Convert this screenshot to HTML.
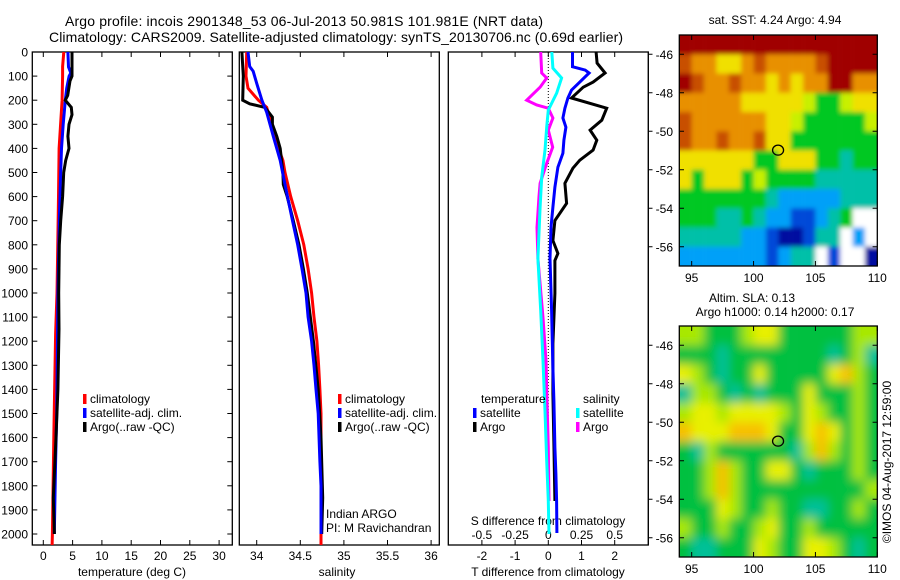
<!DOCTYPE html>
<html><head><meta charset="utf-8"><style>
html,body{margin:0;padding:0;background:#fff;}
svg{display:block;font-family:"Liberation Sans",Arial,sans-serif;}
</style></head><body>
<svg id="fig" width="900" height="580" viewBox="0 0 900 580" xmlns="http://www.w3.org/2000/svg">
<defs>
<clipPath id="c1"><rect x="32.3" y="52" width="200" height="493"/></clipPath>
<clipPath id="c2"><rect x="239.3" y="52" width="200" height="493"/></clipPath>
<clipPath id="c3"><rect x="448.3" y="52" width="200" height="493"/></clipPath>
<clipPath id="cm1"><rect x="679.3" y="35" width="198" height="231"/></clipPath>
<clipPath id="cm2"><rect x="679.3" y="326" width="198" height="231"/></clipPath>
<filter id="blur" x="-5%" y="-5%" width="110%" height="110%"><feGaussianBlur stdDeviation="5"/></filter>
<filter id="blur2" x="-5%" y="-5%" width="110%" height="110%"><feGaussianBlur stdDeviation="2.5"/></filter>
</defs>
<text x="65" y="26" font-size="14" textLength="478">Argo profile: incois 2901348_53 06-Jul-2013 50.981S 101.981E (NRT data)</text>
<text x="49" y="42" font-size="14" textLength="574">Climatology: CARS2009. Satellite-adjusted climatology: synTS_20130706.nc (0.69d earlier)</text>
<g id="g1"></g>
<g id="g2"></g>
<g id="g3"></g>
<g id="gm"></g>
<text transform="translate(891,462) rotate(-90)" font-size="12" text-anchor="middle">©IMOS 04-Aug-2017 12:59:00</text>
</svg>
<script>
// ---- data ----
const depthTicks=[0,100,200,300,400,500,600,700,800,900,1000,1100,1200,1300,1400,1500,1600,1700,1800,1900,2000];
const tempTicks=[0,5,10,15,20,25,30];
const salTicks=[34,34.5,35,35.5,36];
const dTTicks=[-2,-1,0,1,2];
const dSTicks=[-0.5,-0.25,0,0.25,0.5];
const dSTickLabels=["-0.5","-0.25","0","0.25","0.5"];
// temperature
const tClimD=[0,60,100,200,280,400,600,900,1000,1170,1600,2000,2050];
const tClimV=[3.5,3.3,3.3,3.2,3.0,2.7,2.6,2.4,2.34,2.1,1.8,1.55,1.5];
const tSatD=[0,62,87,100,150,200,300,400,500,700,1000,1100,1500,1700,2000];
const tSatV=[4.2,4.3,4.7,4.4,3.99,3.76,3.4,3.1,2.97,2.73,2.5,2.45,2.28,2.1,1.88];
const tArgD=[0,100,120,180,200,230,260,300,350,400,450,500,600,700,800,1000,1150,1400,1600,1850,2000];
const tArgV=[4.9,4.9,4.56,4.16,3.76,4.78,4.9,4.39,4.2,4.39,3.82,3.48,3.3,2.97,2.73,2.62,2.68,2.5,2.17,1.71,1.9];
// salinity
const sClimD=[0,100,150,200,230,300,400,450,500,600,700,800,900,1000,1100,1200,1300,1400,1500,2000,2050];
const sClimV=[33.885,33.877,33.9,34.02,34.115,34.17,34.25,34.3,34.325,34.39,34.47,34.54,34.59,34.63,34.657,34.69,34.71,34.725,34.737,34.737,34.737];
const sSatD=[0,60,80,130,200,250,350,450,550,700,800,900,1000,1100,1200,1300,1400,1500,1700,1800,2000];
const sSatV=[33.9,33.92,33.96,34.0,34.06,34.115,34.19,34.27,34.325,34.41,34.47,34.52,34.565,34.59,34.63,34.657,34.68,34.705,34.725,34.737,34.737];
const sArgD=[0,100,200,215,230,270,300,350,400,500,550,600,700,800,900,1000,1200,1400,1600,1850,2000];
const sArgV=[33.83,33.846,33.84,33.92,34.095,34.18,34.18,34.23,34.27,34.3,34.305,34.35,34.42,34.485,34.535,34.58,34.65,34.705,34.737,34.757,34.745];
// differences
const dTSatD=[0,61,75,87,125,158,191,233,274,312,366,420,478,561,644,728,857,1073,1310,1447,1642,1751,1863,1996];
const dTSatV=[0.73,0.73,1.11,1.23,0.95,0.70,0.59,0.50,0.44,0.53,0.47,0.44,0.29,0.20,0.14,0.08,0.05,0.10,0.14,0.17,0.20,0.23,0.25,0.26];
const dTArgD=[0,46,87,125,146,191,233,283,324,366,407,449,482,545,628,699,782,836,865,1002,1210,1418,1626,1863];
const dTArgV=[1.44,1.47,1.71,1.35,1.05,0.70,1.76,1.61,1.26,1.46,1.35,0.95,0.74,0.50,0.55,0.20,0.14,0.29,0.20,0.20,0.14,0.14,0.17,0.20];
const dSSatD=[0,67,108,170,241,312,407,520,644,857,1073,1281,1489,1696,1863,2000];
const dSSatV=[0.026,0.035,0.10,0.063,0,-0.012,-0.025,-0.05,-0.062,-0.078,-0.057,-0.04,-0.025,-0.012,0,0.005];
const dSArgD=[0,87,108,146,200,220,233,274,324,395,462,545,599,728,857,1102,1281,1447,1642,1863];
const dSArgV=[-0.057,-0.05,-0.012,-0.062,-0.163,-0.087,0,0.035,0,0.033,-0.012,-0.062,-0.07,-0.085,-0.078,-0.04,-0.017,-0.01,0,0.005];
// maps (rows lat -45..-57 top to bottom, cols lon 94..110)
const mapLats=[-46,-48,-50,-52,-54,-56];
const mapLons=[95,100,105,110];
const sstGrid=["RRRRRRRRRRRRRRRR","rOOYYOrOOOOrRRRR","RrOOrOOYOYOORROO","OOOOOYYYYYLGGLYY","rOOOOOOYYLGGGGGL","rOOrOOrYYGGGGGGG","YYYYYYGGYYYGGCGG","YGYYYGLGGGGCCCCC","GGGGGGGCBBBBBCCC","GGGCCGCBBbbBCGWW","CCCCCBBbNNbCCWBW","BBBBBBBbBCCWbWWN"];
const slaGrid=["LLGGGLYYGGGGGGLL","GGGCGGGGGGGGCGLC","YLGCGGYGGGGGYOLG","CLLGCGCGGGYGGGLG","LYYLYYYYLGYLGGLG","OYYYOOOYGGYOYGLG","GCLGGGGGGCLOLGLG","GGLOLGGYYGCGGGLG","GGLOLGGGGGGGGGGL","GGGYLGGLGGCCGGLG","LGGLGGLYGGLGGGGG","GCCGGGYLGGYYLGCG"];
const argoLon=101.981, argoLat=-50.981;

// ---- helpers ----
const NS="http://www.w3.org/2000/svg";
function mk(tag,attrs,parent){const e=document.createElementNS(NS,tag);for(const k in attrs)e.setAttribute(k,attrs[k]);parent.appendChild(e);return e;}
const yD=d=>52+0.241*d;
const xT=t=>43.3+5.86*t;
const xS=s=>256.7+87.2*(s-34);
const xdT=v=>548.3+33.2*v;
const xdS=v=>548.3+132.8*v;
const B=545, TOP=52;

function frame(g,x0,name){
  const r=mk('rect',{x:x0,y:TOP,width:200,height:B-TOP,fill:'none',stroke:'#000','stroke-width':1.3},g);
  
  
}
function xticks(g,scale,vals,labels,ly){
  vals.forEach((v,i)=>{
    const x=scale(v);
    mk('line',{x1:x,x2:x,y1:TOP,y2:TOP+5,stroke:'#000'},g);
    mk('line',{x1:x,x2:x,y1:B,y2:B-5,stroke:'#000'},g);
    if(ly){const t=mk('text',{x:x,y:ly,'font-size':12,'text-anchor':'middle'},g);t.textContent=labels[i];
      
      }
  });
}
function line(g,clip,xs,d,v,color,name){
  const pts=d.map((dd,i)=>xs(v[i]).toFixed(1)+','+yD(dd).toFixed(1)).join(' ');
  const p=mk('polyline',{points:pts,fill:'none',stroke:color,'stroke-width':3,'stroke-linejoin':'miter','clip-path':'url(#'+clip+')'},g);
  
  
}
function legend(g,x,y,items){
  items.forEach((it,i)=>{
    const yy=y+i*14;
    mk('rect',{x:x,y:yy-9,width:3.5,height:10,fill:it[1]},g);
    const t=mk('text',{x:x+7,y:yy,'font-size':12},g);t.textContent=it[0];
    
    
  });
}
function txt(g,x,y,s,anchor,name){const t=mk('text',{x:x,y:y,'font-size':12,'text-anchor':anchor||'start'},g);t.textContent=s;
  
  return t;}

// ---- panel 1 ----
const g1=document.getElementById('g1');
frame(g1,32.3,'temperature-axes');
depthTicks.forEach(d=>{
  const y=yD(d);
  mk('line',{x1:32.3,x2:37.3,y1:y,y2:y,stroke:'#000'},g1);
  mk('line',{x1:232.3,x2:227.3,y1:y,y2:y,stroke:'#000'},g1);
  const t=mk('text',{x:28,y:y+4.5,'font-size':12,'text-anchor':'end'},g1);t.textContent=d;
  
  
});
xticks(g1,xT,tempTicks,tempTicks.map(String),560);
txt(g1,132,576,'temperature (deg C)','middle','x-axis-title-temperature');
line(g1,'c1',xT,tClimD,tClimV,'#ff0000','temp-climatology-line');
line(g1,'c1',xT,tSatD,tSatV,'#0000ff','temp-satellite-line');
line(g1,'c1',xT,tArgD,tArgV,'#000000','temp-argo-line');
legend(g1,83,403,[['climatology','#ff0000'],['satellite-adj. clim.','#0000ff'],['Argo(..raw -QC)','#000']]);

// ---- panel 2 ----
const g2=document.getElementById('g2');
frame(g2,239.3,'salinity-axes');
xticks(g2,xS,salTicks,salTicks.map(String),560);
txt(g2,337,576,'salinity','middle','x-axis-title-salinity');
line(g2,'c2',xS,sClimD,sClimV,'#ff0000','sal-climatology-line');
line(g2,'c2',xS,sArgD,sArgV,'#000000','sal-argo-line');
line(g2,'c2',xS,sSatD,sSatV,'#0000ff','sal-satellite-line');
legend(g2,338,403,[['climatology','#ff0000'],['satellite-adj. clim.','#0000ff'],['Argo(..raw -QC)','#000']]);
txt(g2,326,518,'Indian ARGO','start','institution-label');
txt(g2,326,532,'PI: M Ravichandran','start','pi-label');

// ---- panel 3 ----
const g3=document.getElementById('g3');
frame(g3,448.3,'difference-axes');
xticks(g3,xdT,dTTicks,dTTicks.map(String),560);
dSTicks.forEach((v,i)=>{const t=mk('text',{x:xdS(v),y:539,'font-size':12,'text-anchor':'middle'},g3);t.textContent=dSTickLabels[i];
  
  });
txt(g3,548,525,'S difference from climatology','middle','s-diff-axis-title');
txt(g3,548,576,'T difference from climatology','middle','t-diff-axis-title');
mk('line',{x1:xdT(0),x2:xdT(0),y1:TOP,y2:yD(2000),stroke:'#000','stroke-dasharray':'1,2'},g3);
line(g3,'c3',xdS,dSArgD,dSArgV,'#ff00ff','sal-argo-diff-line');
line(g3,'c3',xdS,dSSatD,dSSatV,'#00ffff','sal-satellite-diff-line');
line(g3,'c3',xdT,dTArgD,dTArgV,'#000000','temp-argo-diff-line');
line(g3,'c3',xdT,dTSatD,dTSatV,'#0000ff','temp-satellite-diff-line');
txt(g3,481,403,'temperature','start','legend-title-temperature');
txt(g3,583,403,'salinity','start','legend-title-salinity');
legend(g3,473,417,[['satellite','#0000ff'],['Argo','#000']]);
legend(g3,576,417,[['satellite','#00ffff'],['Argo','#ff00ff']]);

// ---- maps ----
const gm=document.getElementById('gm');
const sstCol={R:'#a00000',r:'#c85000',O:'#e89000',Y:'#f0e000',L:'#c8f000',G:'#00c820',C:'#00c0a8',B:'#00a0f8',b:'#0048d8',N:'#0010a0',W:'#ffffff'};
const slaCol={G:'#00c040',C:'#00c098',L:'#a8e800',Y:'#e8f000',O:'#f8c000'};
const mx=lon=>679.3+(lon-94)*12.375;
function drawMap(grid,cols,y0,clip,filt,bg,name){
  const gg=mk('g',{'clip-path':'url(#'+clip+')'},gm);
  
  
  const inner=mk('g',{filter:'url(#'+filt+')'},gg);
  const my=lat=>y0+(-45-lat)*19.25;
  grid.forEach((row,r)=>{
    for(let c=0;c<row.length;c++){
      const lat=-45-r, lon=94+c;
      let x=mx(lon),y=my(lat),w=12.6,h=19.5;
      if(c===0){x-=10;w+=10;} if(c===row.length-1){w+=10;}
      if(r===0){y-=10;h+=10;} if(r===grid.length-1){h+=10;}
      mk('rect',{x:x,y:y,width:w,height:h,fill:cols[row[c]]},inner);
    }
  });
  mk('rect',{x:679.3,y:y0,width:198,height:231,fill:'none',stroke:'#000','stroke-width':1.3},gm);
  mapLats.forEach(l=>{const y=my(l);
    mk('line',{x1:679.3,x2:684,y1:y,y2:y,stroke:'#000'},gm);
    mk('line',{x1:877.3,x2:872.6,y1:y,y2:y,stroke:'#000'},gm);
    mk('line',{x1:648.3,x2:652.5,y1:y,y2:y,stroke:'#000'},gm);
    const t=mk('text',{x:673,y:y+4.5,'font-size':12,'text-anchor':'end'},gm);t.textContent=String(l);
    
    });
  mapLons.forEach(l=>{const x=mx(l);
    mk('line',{x1:x,x2:x,y1:y0,y2:y0+5,stroke:'#000'},gm);
    mk('line',{x1:x,x2:x,y1:y0+231,y2:y0+226,stroke:'#000'},gm);
    const t=mk('text',{x:x,y:y0+247,'font-size':12,'text-anchor':'middle'},gm);t.textContent=l;
    
    });
  const c=mk('ellipse',{cx:mx(argoLon),cy:my(argoLat),rx:5.5,ry:5,fill:'none',stroke:'#000','stroke-width':1.3},gm);
  
  
}
drawMap(sstGrid,sstCol,35,'cm1','blur2','#a00000','sst-map');
drawMap(slaGrid,slaCol,326,'cm2','blur','#00c040','sla-map');
mk('line',{x1:648.3,x2:648.3,y1:52,y2:545,stroke:'#000'},gm);
txt(gm,775,24,'sat. SST: 4.24 Argo: 4.94','middle','sst-map-title');
txt(gm,752,302,'Altim. SLA: 0.13','middle','sla-map-title');
txt(gm,775,316,'Argo h1000: 0.14 h2000: 0.17','middle','sla-map-subtitle');
</script>
</body></html>
